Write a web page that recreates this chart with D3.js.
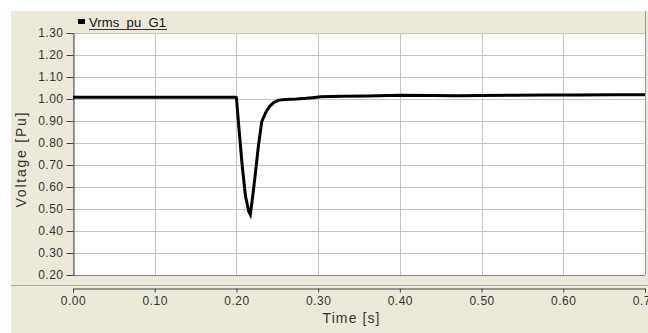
<!DOCTYPE html>
<html>
<head>
<meta charset="utf-8">
<script src="https://cdn.jsdelivr.net/npm/d3@7"></script>
<style>
  html, body { margin: 0; padding: 0; background: #fff; }
  svg { display: block; font-family: "Liberation Sans", Arial, sans-serif; }
</style>
</head>
<body>
<svg id="chart" width="648" height="333"></svg>
<script>
// signal
const seriesName = 'Vrms_pu_G1'
const times = [0.000, 0.100, 0.199, 0.200, 0.203, 0.207, 0.211, 0.215, 0.217, 0.219, 0.223, 0.227, 0.231, 0.236, 0.241, 0.246, 0.252, 0.260, 0.274, 0.285, 0.293, 0.303, 0.330, 0.360, 0.400, 0.440, 0.470, 0.500, 0.540, 0.580, 0.620, 0.660, 0.700]
const volts = [1.008, 1.008, 1.008, 1.006, 0.870, 0.700, 0.560, 0.490, 0.475, 0.530, 0.655, 0.790, 0.897, 0.940, 0.968, 0.985, 0.995, 0.998, 1.000, 1.003, 1.006, 1.010, 1.012, 1.014, 1.017, 1.016, 1.015, 1.016, 1.017, 1.018, 1.018, 1.019, 1.019]
const xTicks = [0, 0.1, 0.2, 0.3, 0.4, 0.5, 0.6, 0.7]
const yTicks = [0.2, 0.3, 0.4, 0.5, 0.6, 0.7, 0.8, 0.9, 1.0, 1.1, 1.2, 1.3]

const svg = d3.select('#chart')
const pLeft = 73, pRight = 645, pTop = 33, pBottom = 275
const axisY = 288

const x = d3.scaleLinear().domain([0, 0.7]).range([pLeft, pRight])
const y = d3.scaleLinear().domain([0.2, 1.3]).range([pBottom, pTop])

// panel background
svg.append('rect').attr('x', 11).attr('y', 11).attr('width', 637).attr('height', 322).attr('fill', '#ece9d8')
svg.append('line').attr('x1', 11).attr('x2', 648).attr('y1', 285.5).attr('y2', 285.5).attr('stroke', '#a8a8a0')

svg.append('rect').attr('x', pLeft).attr('y', pTop).attr('width', pRight - pLeft).attr('height', pBottom - pTop).attr('fill', '#fff')

// grid
svg.append('g').selectAll('line').data(yTicks).enter().append('line')
    .attr('x1', pLeft).attr('x2', pRight)
    .attr('y1', d => Math.round(y(d)) + 0.5).attr('y2', d => Math.round(y(d)) + 0.5)
    .attr('stroke', '#c4c4c4')
svg.append('g').selectAll('line').data(xTicks).enter().append('line')
    .attr('x1', d => Math.round(x(d)) + 0.5).attr('x2', d => Math.round(x(d)) + 0.5)
    .attr('y1', pTop).attr('y2', pBottom)
    .attr('stroke', '#c4c4c4')

// frame
svg.append('line').attr('x1', pRight + 0.5).attr('x2', pRight + 0.5).attr('y1', 11).attr('y2', pBottom).attr('stroke', '#9a9a9a')
svg.append('line').attr('x1', pLeft).attr('x2', pRight).attr('y1', pBottom + 0.5).attr('y2', pBottom + 0.5).attr('stroke', '#808080')

// y axis
const yAxis = svg.append('g')
    .attr('transform', `translate(${pLeft + 0.5},0)`)
    .call(d3.axisLeft(y).tickValues(yTicks).tickFormat(d3.format('.2f')).tickSize(7).tickSizeOuter(0).tickPadding(3))
yAxis.selectAll('path, line').attr('stroke', '#404040')
yAxis.selectAll('text').attr('font-size', 12).attr('fill', '#333').style('letter-spacing', '0.5px')
    .attr('font-family', '"Liberation Sans", Arial, sans-serif')

// x axis
const xAxis = svg.append('g')
    .attr('transform', `translate(0,${axisY + 0.5})`)
    .call(d3.axisBottom(x).tickValues(xTicks).tickFormat(d3.format('.2f')).tickSize(4).tickSizeOuter(4).tickPadding(4))
xAxis.selectAll('path, line').attr('stroke', '#404040')
xAxis.selectAll('text').attr('font-size', 12).attr('fill', '#333').style('letter-spacing', '0.5px')
    .attr('font-family', '"Liberation Sans", Arial, sans-serif')

// curve
const pts = times.map((t, i) => [t, volts[i]])
svg.append('path')
    .datum(pts)
    .attr('fill', 'none')
    .attr('stroke', '#000')
    .attr('stroke-width', 3)
    .attr('stroke-linejoin', 'miter')
    .attr('d', d3.line().x(d => x(d[0])).y(d => y(d[1])))

// axis titles
svg.append('text').attr('x', 351).attr('y', 323).attr('text-anchor', 'middle')
    .attr('font-size', 14).attr('fill', '#333').attr('textLength', 57).text('Time [s]')
svg.append('text').attr('transform', 'translate(26,160) rotate(-90)').attr('text-anchor', 'middle')
    .attr('font-size', 14).attr('fill', '#333').attr('textLength', 95).text('Voltage [Pu]')

// legend
svg.append('rect').attr('x', 78).attr('y', 19).attr('width', 7).attr('height', 5).attr('fill', '#000')
svg.append('text').attr('x', 89).attr('y', 27).attr('font-size', 13).attr('fill', '#111')
    .attr('textLength', 77).text(seriesName)
svg.append('line').attr('x1', 89).attr('x2', 167).attr('y1', 29.5).attr('y2', 29.5).attr('stroke', '#333')
</script>
</body>
</html>
